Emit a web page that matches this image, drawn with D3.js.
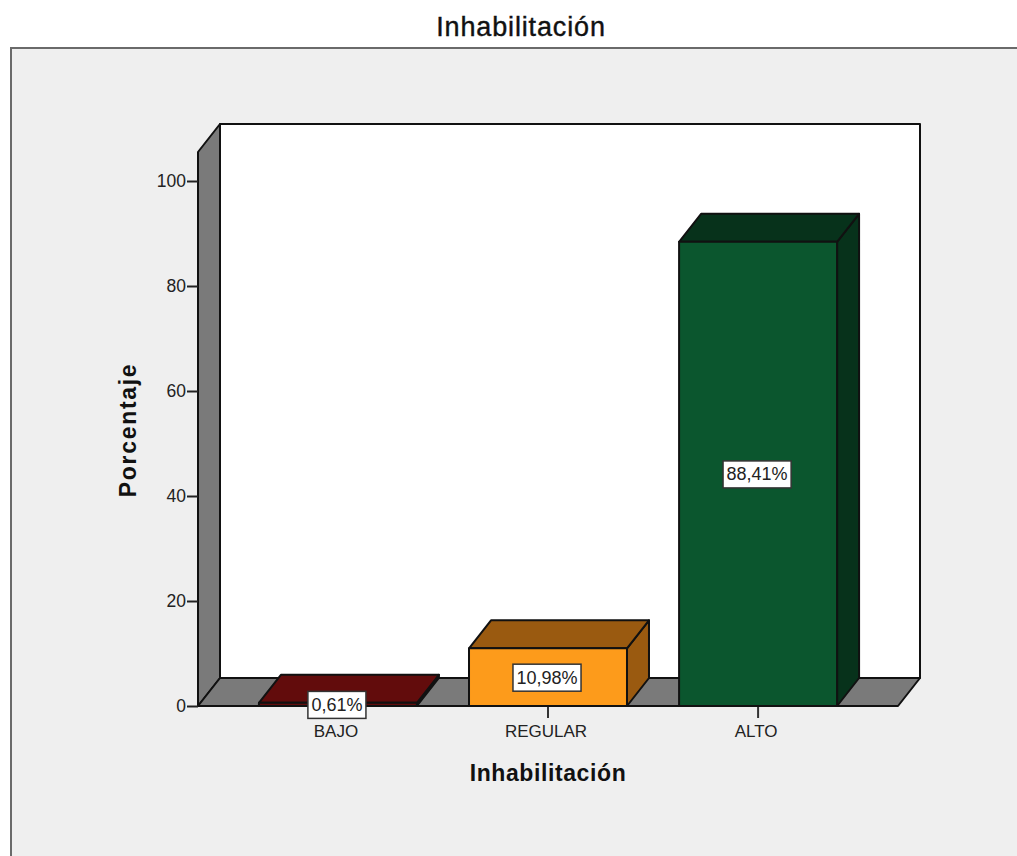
<!DOCTYPE html>
<html>
<head>
<meta charset="utf-8">
<script src="https://cdn.jsdelivr.net/npm/d3@7"></script>
<style>
html, body { margin: 0; padding: 0; background: #fff; overflow: hidden; }
text { font-family: "Liberation Sans", Arial, sans-serif; }
</style>
</head>
<body>
<script>
// values
var categories = ["BAJO", "REGULAR", "ALTO"];
var percentages = [0.61, 10.98, 88.41];
var valueLabels = ["0,61%", "10,98%", "88,41%"];
var frontColors = ["#620c0c", "#fd9b1b", "#0b562e"];
var topColors = ["#620c0c", "#9a5a10", "#07321b"];
var sideColors = ["#4a0808", "#9a5a10", "#07321b"];
var yTicks = [0, 20, 40, 60, 80, 100];

var WIDTH = 1017, HEIGHT = 856;
var DX = 22, DY = -28;   // depth offset of the 3D box

var svg = d3.select("body").append("svg")
    .attr("width", WIDTH)
    .attr("height", HEIGHT)
    .style("display", "block");

var y = d3.scaleLinear().domain([0, 100]).range([706, 181]);
var x = d3.scaleBand().domain(categories).range([198, 898])
    .paddingInner(0.248).paddingOuter(0.29);

var yMaxPx = 152, yZero = y(0);
var left = x.range()[0], right = x.range()[1];

function poly(points, fill) {
    return svg.append("polygon")
        .attr("points", points.map(function(p){ return p.join(","); }).join(" "))
        .attr("fill", fill)
        .attr("stroke", "#111")
        .attr("stroke-width", 2)
        .attr("stroke-linejoin", "round");
}

// panel
svg.append("rect")
    .attr("x", 11).attr("y", 48)
    .attr("width", WIDTH + 20).attr("height", HEIGHT + 20)
    .attr("fill", "#efefef")
    .attr("stroke", "#6a6a6a")
    .attr("stroke-width", 2);

svg.append("text")
    .attr("x", 521).attr("y", 36)
    .attr("text-anchor", "middle")
    .attr("font-size", 27)
    .attr("letter-spacing", 0.85)
    .attr("fill", "#111")
    .attr("stroke", "#111")
    .attr("stroke-width", 0.4)
    .text("Inhabilitación");

// back wall, left wall, floor
poly([[left + DX, yMaxPx + DY], [right + DX, yMaxPx + DY], [right + DX, yZero + DY], [left + DX, yZero + DY]], "#ffffff");
poly([[left, yMaxPx], [left + DX, yMaxPx + DY], [left + DX, yZero + DY], [left, yZero]], "#7a7a7a");
poly([[left, yZero], [left + DX, yZero + DY], [right + DX, yZero + DY], [right, yZero]], "#7a7a7a");

// axes
var yAxis = d3.axisLeft(y).tickValues(yTicks).tickSize(11).tickSizeOuter(0).tickPadding(1);
var yG = svg.append("g").attr("transform", "translate(" + left + ",0)").call(yAxis);
yG.select(".domain").remove();
yG.selectAll("line").attr("stroke", "#222").attr("stroke-width", 2);
yG.selectAll("text").attr("font-size", 17.5).attr("fill", "#222")
    .style("font-family", '"Liberation Sans", Arial, sans-serif');

var xAxis = d3.axisBottom(x).tickSize(12).tickSizeOuter(0).tickPadding(7);
var xG = svg.append("g").attr("transform", "translate(0," + yZero + ")").call(xAxis);
xG.select(".domain").remove();
xG.selectAll("line").attr("stroke", "#333").attr("stroke-width", 2);
xG.selectAll("text").attr("font-size", 17).attr("fill", "#222").attr("dx", -2)
    .style("font-family", '"Liberation Sans", Arial, sans-serif');

// bars
categories.forEach(function(c, i){
    var x0 = x(c), x1 = x0 + x.bandwidth(), yt = y(percentages[i]);
    poly([[x1, yt], [x1 + DX, yt + DY], [x1 + DX, yZero + DY], [x1, yZero]], sideColors[i]);
    poly([[x0, yt], [x0 + DX, yt + DY], [x1 + DX, yt + DY], [x1, yt]], topColors[i]);
    poly([[x0, yt], [x1, yt], [x1, yZero], [x0, yZero]], frontColors[i]);
});

// value labels, box sized from the text
categories.forEach(function(c, i){
    var cx = x(c) + x.bandwidth() / 2 - 1;
    var cy = (y(percentages[i]) + yZero) / 2;
    var g = svg.append("g");
    var box = g.append("rect");
    var t = g.append("text")
        .attr("x", cx).attr("y", cy + 6.5)
        .attr("text-anchor", "middle")
        .attr("font-size", 18)
        .attr("fill", "#222")
        .text(valueLabels[i]);
    var w = t.node().getComputedTextLength() + 7;
    box.attr("x", cx - w / 2).attr("y", cy - 13)
        .attr("width", w).attr("height", 27)
        .attr("fill", "#fff")
        .attr("stroke", "#333")
        .attr("stroke-width", 1.5);
});

// axis titles
svg.append("text")
    .attr("x", 548).attr("y", 781)
    .attr("text-anchor", "middle")
    .attr("font-size", 23)
    .attr("font-weight", "bold")
    .attr("letter-spacing", 0.6)
    .attr("fill", "#111")
    .text("Inhabilitación");

svg.append("text")
    .attr("transform", "translate(136,430) rotate(-90)")
    .attr("text-anchor", "middle")
    .attr("font-size", 23)
    .attr("font-weight", "bold")
    .attr("letter-spacing", 1.7)
    .attr("fill", "#111")
    .text("Porcentaje");
</script>
</body>
</html>
